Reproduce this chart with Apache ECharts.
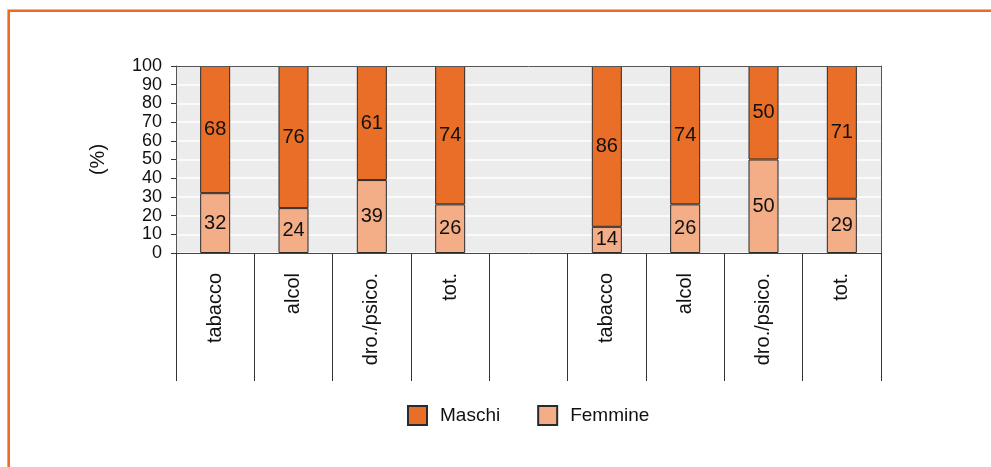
<!DOCTYPE html>
<html>
<head>
<meta charset="utf-8">
<script src="https://cdn.jsdelivr.net/npm/echarts@6/dist/echarts.min.js"></script>
<style>
html,body{margin:0;padding:0;background:#fff;}
#chart{width:991px;height:467px;}
</style>
</head>
<body>
<div id="chart"></div>
<script>
const categories = ['tabacco', 'alcol', 'dro./psico.', 'tot.', '', 'tabacco', 'alcol', 'dro./psico.', 'tot.'];
const maschi = [68, 76, 61, 74, null, 86, 74, 50, 71];
const femmine = [32, 24, 39, 26, null, 14, 26, 50, 29];
const yTicks = [0, 10, 20, 30, 40, 50, 60, 70, 80, 90, 100];

const FONT = "'Liberation Sans', Arial, Helvetica, sans-serif";
const chart = echarts.init(document.getElementById('chart'), null, {renderer: 'canvas'});

const labelStyle = {
  show: true,
  position: 'inside',
  color: '#111',
  fontSize: 20,
  fontFamily: FONT
};

chart.setOption({
  animation: false,
  backgroundColor: '#fff',
  textStyle: {fontFamily: FONT},
  graphic: [{
    type: 'rect',
    shape: {x: 8.7, y: 10.8, width: 1100, height: 600},
    style: {fill: 'none', stroke: '#EC6A22', lineWidth: 2.6},
    silent: true,
    z: 100
  }],
  grid: {
    left: 176, right: 110, top: 66, bottom: 214,
    show: true,
    backgroundColor: '#EBECEB',
    borderWidth: 0
  },
  legend: {
    data: ['Maschi', 'Femmine'],
    left: 402,
    top: 400,
    itemWidth: 19,
    itemHeight: 19,
    itemGap: 37,
    icon: 'rect',
    textStyle: {fontSize: 19, color: '#111', fontFamily: FONT, padding: [0, 0, 0, 8]}
  },
  xAxis: [{
    type: 'category',
    data: categories,
    z: 10,
    axisLine: {show: true, onZero: false, lineStyle: {color: '#444', width: 1}},
    axisTick: {show: true, length: 128, interval: 0, lineStyle: {color: '#333', width: 1}},
    axisLabel: {
      rotate: 90, interval: 0, margin: 20,
      fontSize: 20, color: '#111', fontFamily: FONT,
      formatter: v => v
    },
    splitLine: {show: false}
  }, {
    type: 'category',
    data: categories,
    position: 'top',
    z: 10,
    axisLine: {show: true, onZero: false, lineStyle: {color: '#555', width: 1}},
    axisTick: {show: false},
    axisLabel: {show: false},
    splitLine: {show: false}
  }],
  yAxis: [{
    type: 'value',
    min: 0, max: 100, interval: 10,
    name: '(%)',
    nameLocation: 'middle',
    nameRotate: 90,
    nameGap: 68,
    nameTextStyle: {fontSize: 20, color: '#111', fontFamily: FONT},
    axisLine: {show: true, onZero: false, lineStyle: {color: '#555', width: 1}},
    axisTick: {show: true, length: 5, lineStyle: {color: '#333'}},
    axisLabel: {
      fontSize: 18, color: '#111', fontFamily: FONT, margin: 14,
      formatter: v => (yTicks.indexOf(v) >= 0 ? String(v) : '')
    },
    splitLine: {show: true, lineStyle: {color: '#ffffff', width: 1.5}}
  }, {
    type: 'value',
    min: 0, max: 100, interval: 10,
    position: 'right',
    z: 10,
    axisLine: {show: true, onZero: false, lineStyle: {color: '#555', width: 1}},
    axisTick: {show: false},
    axisLabel: {show: false},
    splitLine: {show: false}
  }],
  series: [{
    name: 'Femmine',
    type: 'bar',
    stack: 'tot',
    data: femmine,
    barWidth: 30,
    itemStyle: {color: '#F3AE88', borderColor: '#2a2a2a', borderWidth: 1},
    label: labelStyle
  }, {
    name: 'Maschi',
    type: 'bar',
    stack: 'tot',
    data: maschi,
    barWidth: 30,
    itemStyle: {color: '#E96E27', borderColor: '#2a2a2a', borderWidth: 1},
    label: labelStyle
  }]
});
</script>
</body>
</html>
